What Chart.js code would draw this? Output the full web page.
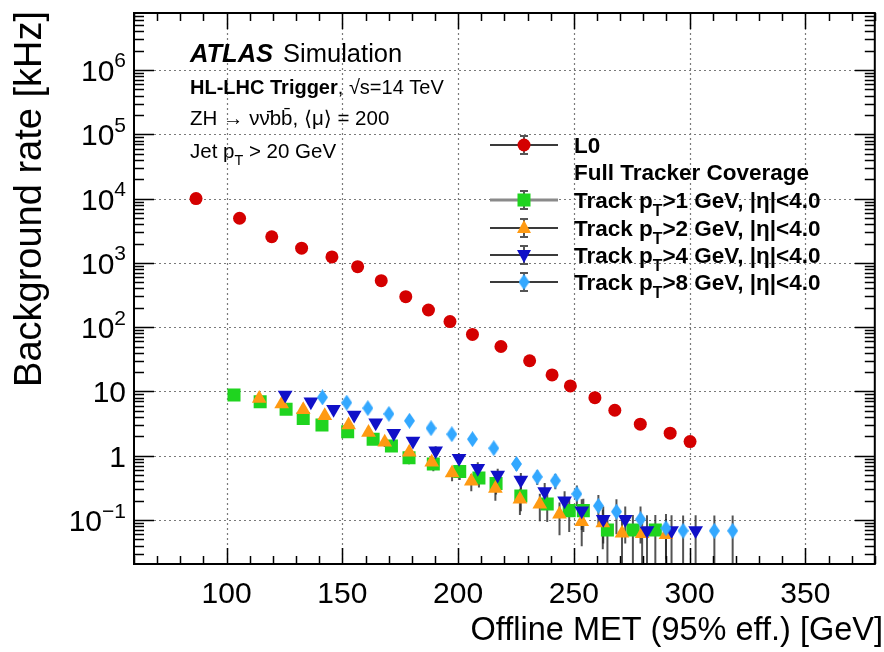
<!DOCTYPE html>
<html>
<head>
<meta charset="utf-8">
<script src="https://cdn.jsdelivr.net/npm/chart.js@4.4.0/dist/chart.umd.min.js"></script>
<style>
  html, body { margin: 0; padding: 0; background: #fff; }
  #wrap { width: 884px; height: 652px; }
</style>
</head>
<body>
<div id="wrap"><canvas id="c" width="884" height="652"></canvas></div>
<script>
// values
var l0X = [86.8, 105.6, 119.5, 132.4, 145.5, 156.6, 166.8, 177.4, 187.2, 196.5, 206.2, 218.5, 230.9, 240.6, 248.5, 259.1, 267.7, 278.7, 291.6, 300.2];
var l0Y = [10000, 4940, 2550, 1690, 1236, 873, 528, 298, 185, 122, 77, 50, 30, 18.1, 12.2, 8.0, 5.1, 3.1, 2.24, 1.66];

var pt1X = [103.2, 114.5, 125.7, 133.1, 141.2, 152.3, 163.3, 171.2, 178.8, 189.3, 200.7, 209, 216.4, 227.1, 238.5, 248, 254.1, 264.5, 275.5, 285.2];
var pt1Y = [8.8, 6.9, 5.3, 3.8, 3.0, 2.37, 1.80, 1.42, 0.93, 0.745, 0.57, 0.45, 0.37, 0.237, 0.178, 0.14, 0.14, 0.070, 0.070, 0.070];
var pt1Err = [0.6, 0.5, 0.45, 0.4, 0.35, 0.3, 0.27, 0.24, 0.19, 0.17, 0.15, 0.13, 0.12, 0.1, 0.085, 0.075, 0.075, 0.05, 0.05, 0.05];

var pt2X = [114.1, 123.8, 133.1, 142.4, 152.7, 161.3, 168.3, 178.9, 188.6, 197.4, 205.7, 216.1, 226.7, 235.3, 243.8, 253.4, 262.5, 270.8, 279.5, 289.8];
var pt2Y = [7.8, 6.4, 5.2, 4.2, 3.0, 2.29, 1.62, 1.13, 0.79, 0.54, 0.40, 0.31, 0.21, 0.176, 0.123, 0.094, 0.09, 0.0625, 0.061, 0.059];
var pt2Err = [0.6, 0.5, 0.45, 0.4, 0.35, 0.3, 0.25, 0.2, 0.17, 0.14, 0.12, 0.11, 0.09, 0.08, 0.065, 0.055, 0.055, 0.045, 0.045, 0.045];

var pt4X = [125.3, 136.4, 146.2, 155.1, 164.4, 172.2, 180.5, 190.3, 200.4, 208.5, 217.1, 227.1, 237.4, 246, 253.4, 262.7, 272.2, 281.6, 292.2, 302.6];
var pt4Y = [8.8, 6.9, 5.3, 4.3, 3.27, 2.24, 1.70, 1.2, 0.91, 0.64, 0.50, 0.42, 0.277, 0.2, 0.14, 0.103, 0.103, 0.0686, 0.0686, 0.0686];
var pt4Err = [0.6, 0.5, 0.45, 0.4, 0.35, 0.3, 0.26, 0.21, 0.18, 0.15, 0.13, 0.12, 0.1, 0.08, 0.07, 0.06, 0.06, 0.05, 0.05, 0.05];

var pt8X = [141.4, 151.9, 161, 170.1, 179, 188.3, 197.3, 206.2, 215.4, 225.2, 234.2, 242, 251.3, 260.6, 268.4, 278.8, 289.8, 297.2, 310.7, 318.6];
var pt8Y = [8.1, 6.7, 5.5, 4.47, 3.5, 2.68, 2.16, 1.81, 1.31, 0.745, 0.47, 0.41, 0.255, 0.166, 0.135, 0.103, 0.0745, 0.068, 0.068, 0.068];
var pt8Err = [0.6, 0.5, 0.45, 0.4, 0.35, 0.3, 0.27, 0.25, 0.2, 0.16, 0.12, 0.11, 0.09, 0.08, 0.075, 0.06, 0.05, 0.05, 0.05, 0.05];

var xMajor = [100, 150, 200, 250, 300, 350];
var yDecades = [-1, 0, 1, 2, 3, 4, 5, 6];

var FONT = '"Liberation Sans", Arial, "DejaVu Sans", sans-serif';

function pts(xs, ys) {
    return xs.map(function (x, i) { return { x: x, y: ys[i] }; });
}

// tall diamond marker like ROOT style 33
function diamond(color) {
    var c = document.createElement('canvas');
    c.width = 11; c.height = 16;
    var g = c.getContext('2d');
    g.fillStyle = color;
    g.beginPath();
    g.moveTo(5.5, 0); g.lineTo(11, 8); g.lineTo(5.5, 16); g.lineTo(0, 8);
    g.closePath(); g.fill();
    return c;
}

var series = [
    { label: 'L0', x: l0X, y: l0Y, err: null, color: '#d40000', style: 'circle', radius: 6.5, rot: 0 },
    { label: '>1', x: pt1X, y: pt1Y, err: pt1Err, color: '#1fd41f', style: 'rect', radius: 9.2, rot: 0 },
    { label: '>2', x: pt2X, y: pt2Y, err: pt2Err, color: '#ff9a12', style: 'triangle', radius: 8.5, rot: 0 },
    { label: '>4', x: pt4X, y: pt4Y, err: pt4Err, color: '#1010c8', style: 'triangle', radius: 8.5, rot: 180 },
    { label: '>8', x: pt8X, y: pt8Y, err: pt8Err, color: '#33a8ff', style: diamond('#33a8ff'), radius: 7, rot: 0 }
];

function drawParts(ctx, x, y, parts, size) {
    var cx = x;
    parts.forEach(function (p) {
        var s = p.small ? size * 0.7 : size;
        ctx.font = (p.italic ? 'italic ' : '') + (p.bold ? 'bold ' : '') + s + 'px ' + FONT;
        var dy = p.sub ? size * 0.35 : (p.sup ? -size * 0.45 : 0);
        ctx.fillText(p.t, cx, y + dy);
        cx += ctx.measureText(p.t).width + (p.gap || 0);
    });
    return cx;
}

var deco = {
    id: 'deco',
    beforeDatasetsDraw: function (chart) {
        var ctx = chart.ctx, a = chart.chartArea;
        var xs = chart.scales.x, ys = chart.scales.y;
        ctx.save();
        // dotted grid
        ctx.strokeStyle = '#7a7a7a';
        ctx.lineWidth = 1.2;
        ctx.setLineDash([2, 3]);
        xMajor.forEach(function (v) {
            var px = Math.round(xs.getPixelForValue(v)) + 0.5;
            ctx.beginPath(); ctx.moveTo(px, a.top); ctx.lineTo(px, a.bottom); ctx.stroke();
        });
        yDecades.forEach(function (d) {
            var py = Math.round(ys.getPixelForValue(Math.pow(10, d))) + 0.5;
            ctx.beginPath(); ctx.moveTo(a.left, py); ctx.lineTo(a.right, py); ctx.stroke();
        });
        ctx.setLineDash([]);
        // error bars
        ctx.beginPath();
        ctx.rect(a.left, a.top, a.right - a.left, a.bottom - a.top);
        ctx.clip();
        ctx.strokeStyle = 'rgba(40,40,40,0.8)';
        ctx.lineWidth = 2;
        series.forEach(function (s) {
            if (!s.err) return;
            s.x.forEach(function (xv, i) {
                var px = xs.getPixelForValue(xv);
                var lo = s.y[i] - s.err[i];
                var top = ys.getPixelForValue(s.y[i] + s.err[i]);
                var bot = lo > 0 ? ys.getPixelForValue(lo) : a.bottom + 5;
                ctx.beginPath(); ctx.moveTo(px, top); ctx.lineTo(px, bot); ctx.stroke();
            });
        });
        ctx.restore();
    },
    afterDraw: function (chart) {
        var ctx = chart.ctx, a = chart.chartArea;
        var xs = chart.scales.x, ys = chart.scales.y;
        ctx.save();
        ctx.strokeStyle = '#000';
        ctx.fillStyle = '#000';
        // ticks on all four sides
        ctx.lineWidth = 1.5;
        for (var v = 60; v <= 380; v += 10) {
            var px = Math.round(xs.getPixelForValue(v)) + 0.5;
            var len = (v % 50 === 0) ? 16 : 8;
            ctx.beginPath();
            ctx.moveTo(px, a.bottom); ctx.lineTo(px, a.bottom - len);
            ctx.moveTo(px, a.top); ctx.lineTo(px, a.top + len);
            ctx.stroke();
        }
        for (var d = -2; d <= 6; d++) {
            for (var k = 1; k <= 9; k++) {
                var val = k * Math.pow(10, d);
                if (val < ys.min || val > ys.max) continue;
                var py = Math.round(ys.getPixelForValue(val)) + 0.5;
                var l = k === 1 ? 20 : 10;
                ctx.beginPath();
                ctx.moveTo(a.left, py); ctx.lineTo(a.left + l, py);
                ctx.moveTo(a.right, py); ctx.lineTo(a.right - l, py);
                ctx.stroke();
            }
        }
        // frame
        ctx.lineWidth = 2;
        ctx.strokeRect(a.left, a.top, a.right - a.left, a.bottom - a.top);

        // x tick labels
        ctx.textAlign = 'center';
        ctx.textBaseline = 'alphabetic';
        ctx.font = '30px ' + FONT;
        xMajor.forEach(function (v) {
            ctx.fillText(String(v), xs.getPixelForValue(v), 603);
        });
        // y tick labels, right aligned at x=126
        ctx.textAlign = 'left';
        yDecades.forEach(function (d) {
            var py = ys.getPixelForValue(Math.pow(10, d)) + 11;
            var parts;
            if (d === 0) parts = [{ t: '1' }];
            else if (d === 1) parts = [{ t: '10' }];
            else parts = [{ t: '10' }, { t: d < 0 ? '\u2212' + (-d) : String(d), small: true, sup: true }];
            var w = 0;
            parts.forEach(function (p) {
                ctx.font = (p.small ? 21 : 30) + 'px ' + FONT;
                w += ctx.measureText(p.t).width;
            });
            drawParts(ctx, 126 - w, py, parts, 30);
        });

        // axis titles
        ctx.font = '32.5px ' + FONT;
        ctx.textAlign = 'right';
        ctx.fillText('Offline MET (95% eff.) [GeV]', 883, 640);
        ctx.save();
        ctx.translate(41, 11);
        ctx.rotate(-Math.PI / 2);
        ctx.font = '38px ' + FONT;
        ctx.textAlign = 'right';
        ctx.fillText('Background rate [kHz]', 0, 0);
        ctx.restore();

        // ATLAS labels
        ctx.textAlign = 'left';
        drawParts(ctx, 190, 62, [{ t: 'ATLAS', bold: true, italic: true, gap: 10 }, { t: 'Simulation' }], 25.5);
        drawParts(ctx, 190, 94, [{ t: 'HL-LHC Trigger', bold: true }, { t: ', \u221As=14 TeV' }], 20);
        drawParts(ctx, 190, 125, [{ t: 'ZH \u2192 \u03BD\u03BD\u0304bb\u0304, \u27E8\u03BC\u27E9 = 200' }], 20.5);
        drawParts(ctx, 190, 158, [{ t: 'Jet p' }, { t: 'T', sub: true, small: true }, { t: ' > 20 GeV' }], 20.5);

        // legend
        var rows = [145, 200, 228, 255, 282];
        var names = [
            [{ t: 'L0', bold: true }],
            [{ t: 'Track p', bold: true }, { t: 'T', bold: true, sub: true, small: true }, { t: '>1 GeV, |\u03B7|<4.0', bold: true }],
            [{ t: 'Track p', bold: true }, { t: 'T', bold: true, sub: true, small: true }, { t: '>2 GeV, |\u03B7|<4.0', bold: true }],
            [{ t: 'Track p', bold: true }, { t: 'T', bold: true, sub: true, small: true }, { t: '>4 GeV, |\u03B7|<4.0', bold: true }],
            [{ t: 'Track p', bold: true }, { t: 'T', bold: true, sub: true, small: true }, { t: '>8 GeV, |\u03B7|<4.0', bold: true }]
        ];
        rows.forEach(function (ry, i) {
            var s = series[i];
            ctx.strokeStyle = i === 1 ? '#8a8a8a' : '#3a3a3a';
            ctx.lineWidth = i === 1 ? 3 : 2;
            ctx.beginPath(); ctx.moveTo(490, ry); ctx.lineTo(558, ry); ctx.stroke();
            ctx.strokeStyle = '#555';
            ctx.lineWidth = 2;
            ctx.beginPath();
            ctx.moveTo(524, ry - 9); ctx.lineTo(524, ry + 9);
            ctx.moveTo(520, ry - 9); ctx.lineTo(528, ry - 9);
            ctx.moveTo(520, ry + 9); ctx.lineTo(528, ry + 9);
            ctx.stroke();
            ctx.fillStyle = s.color;
            ctx.beginPath();
            if (s.style === 'circle') { ctx.arc(524, ry, s.radius, 0, Math.PI * 2); ctx.fill(); }
            else if (s.style === 'rect') { ctx.fillRect(524 - 6.5, ry - 6.5, 13, 13); }
            else if (s.style === 'triangle') {
                var dir = s.rot ? -1 : 1;
                ctx.moveTo(524, ry - 8 * dir); ctx.lineTo(531, ry + 5 * dir); ctx.lineTo(517, ry + 5 * dir);
                ctx.closePath(); ctx.fill();
            } else { ctx.drawImage(s.style, 524 - 5.5, ry - 8); }
            ctx.fillStyle = '#000';
            drawParts(ctx, 574, ry + 8, names[i], 22.5);
        });
        ctx.fillStyle = '#000';
        drawParts(ctx, 574, 180, [{ t: 'Full Tracker Coverage', bold: true }], 22.5);
        ctx.restore();
    }
};

var datasets = series.map(function (s, i) {
    return {
        label: s.label,
        data: pts(s.x, s.y),
        pointStyle: s.style,
        pointRadius: s.radius,
        pointRotation: s.rot,
        backgroundColor: s.color,
        borderColor: s.color,
        pointBorderWidth: 0,
        showLine: false,
        order: 4 - i
    };
});

var chart = new Chart(document.getElementById('c'), {
    type: 'scatter',
    data: { datasets: datasets },
    plugins: [deco],
    options: {
        responsive: false,
        animation: false,
        devicePixelRatio: 1,
        layout: { padding: { left: 134, right: 1, top: 13, bottom: 88 } },
        plugins: { legend: { display: false }, tooltip: { enabled: false } },
        scales: {
            x: { type: 'linear', min: 60, max: 380, display: false },
            y: { type: 'logarithmic', min: 0.0207, max: 7.7e6, display: false }
        }
    }
});
</script>
</body>
</html>
